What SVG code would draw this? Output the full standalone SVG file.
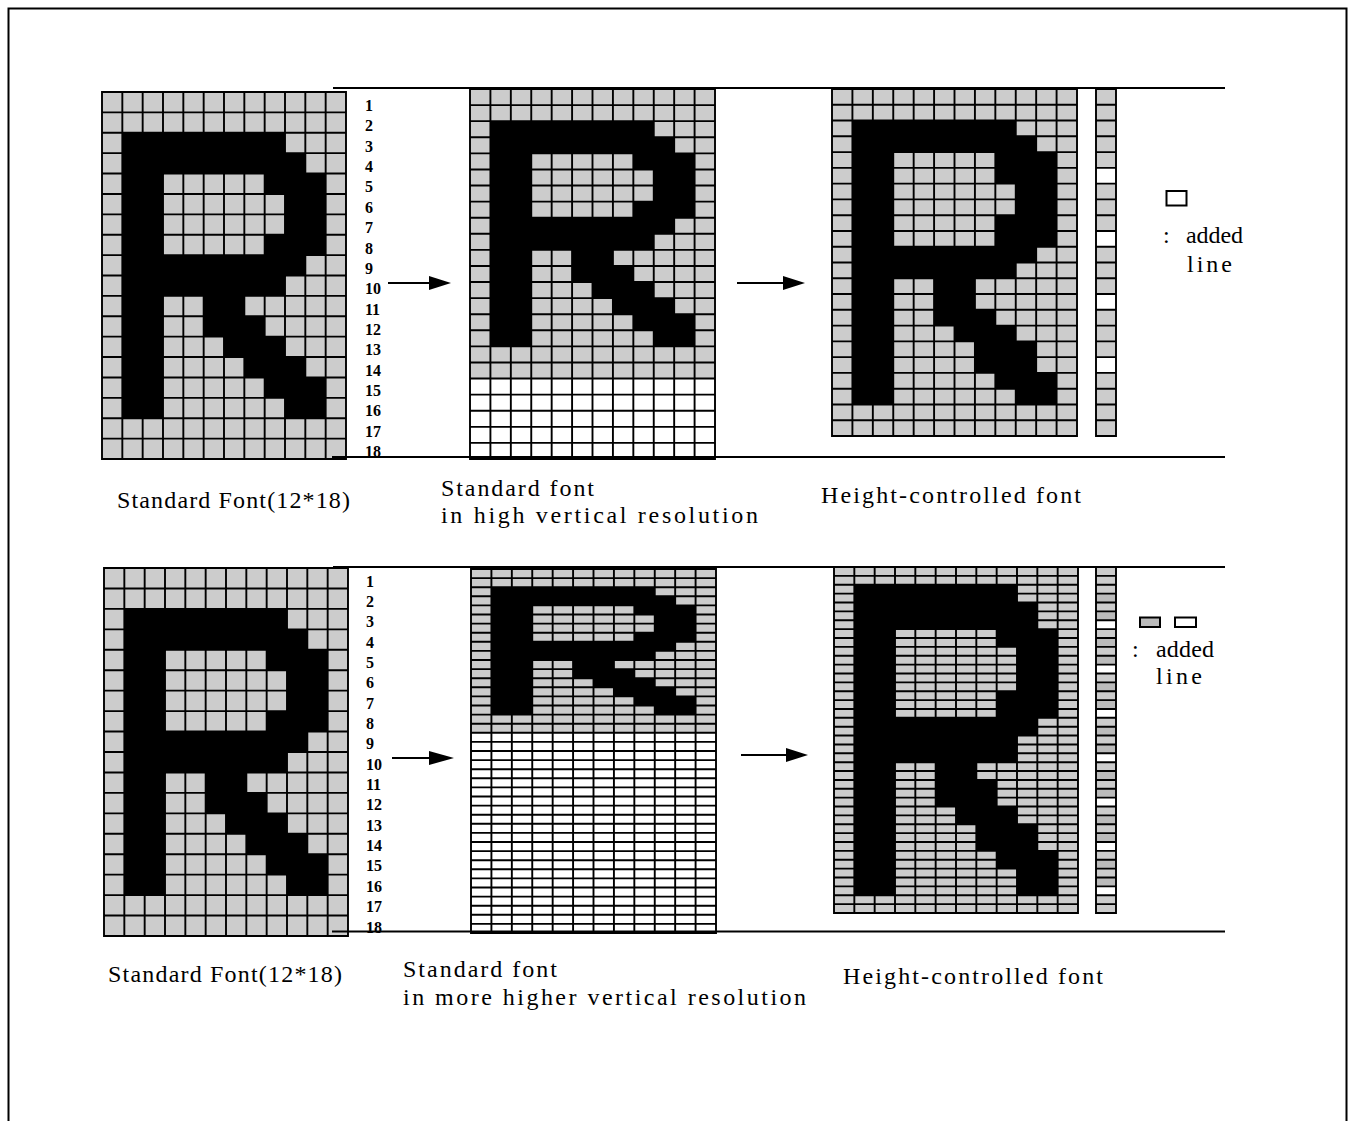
<svg xmlns="http://www.w3.org/2000/svg" xmlns:xlink="http://www.w3.org/1999/xlink" width="1353" height="1121" viewBox="0 0 1353 1121">
<style>
.bg{fill:#cccccc}
.wh{fill:#ffffff}
.dk{fill:#bbbbbb}
.gl{fill:none;stroke:#000;stroke-width:1.9;vector-effect:non-scaling-stroke;stroke-linecap:square}
.cap{font-family:"Liberation Serif",serif;font-size:24px;fill:#000}
.num{font-family:"Liberation Serif",serif;font-size:16px;font-weight:bold;fill:#000}
.rule{stroke:#000;stroke-width:2;fill:none}
.leg{stroke:#000;stroke-width:2}
</style>
<defs>
<g id="rstd">
<rect x="1" y="2" width="2" height="14"/>
<rect x="3" y="2" width="6" height="1"/>
<rect x="3" y="3" width="7" height="1"/>
<rect x="8" y="4" width="3" height="1"/>
<rect x="9" y="5" width="2" height="2"/>
<rect x="8" y="7" width="3" height="1"/>
<rect x="3" y="8" width="7" height="1"/>
<rect x="3" y="9" width="6" height="1"/>
<rect x="5" y="10" width="2" height="1"/>
<rect x="5" y="11" width="3" height="1"/>
<rect x="6" y="12" width="3" height="1"/>
<rect x="7" y="13" width="3" height="1"/>
<rect x="8" y="14" width="3" height="1"/>
<rect x="9" y="15" width="2" height="1"/>
</g>
<path id="g18" class="gl" d="M0 0V18M1 0V18M2 0V18M3 0V18M4 0V18M5 0V18M6 0V18M7 0V18M8 0V18M9 0V18M10 0V18M11 0V18M12 0V18M0 0H12M0 1H12M0 2H12M0 3H12M0 4H12M0 5H12M0 6H12M0 7H12M0 8H12M0 9H12M0 10H12M0 11H12M0 12H12M0 13H12M0 14H12M0 15H12M0 16H12M0 17H12M0 18H12"/>
</defs>

<g id="frame">
<path class="rule" d="M8.5 1121V8.5H1346.5V1121"/>
</g>

<!-- Top row -->
<g id="std-font-top" transform="translate(102,92) scale(20.333,20.389)">
<rect class="bg" width="12" height="18"/>
<use href="#rstd"/>
<use href="#g18"/>
</g>

<g id="row-numbers-top" class="num">
<text x="365" y="111">1</text>
<text x="365" y="131.4">2</text>
<text x="365" y="151.7">3</text>
<text x="365" y="172.1">4</text>
<text x="365" y="192.4">5</text>
<text x="365" y="212.8">6</text>
<text x="365" y="233.1">7</text>
<text x="365" y="253.5">8</text>
<text x="365" y="273.8">9</text>
<text x="365" y="294.2">10</text>
<text x="365" y="314.5">11</text>
<text x="365" y="334.9">12</text>
<text x="365" y="355.2">13</text>
<text x="365" y="375.6">14</text>
<text x="365" y="395.9">15</text>
<text x="365" y="416.3">16</text>
<text x="365" y="436.6">17</text>
<text x="365" y="457">18</text>
</g>

<g id="high-res-top" transform="translate(470,89) scale(20.417,16.087)">
<rect class="bg" width="12" height="18"/>
<use href="#rstd"/>
<rect class="wh" y="18" width="12" height="5"/>
<path class="gl" d="M0 0V23M1 0V23M2 0V23M3 0V23M4 0V23M5 0V23M6 0V23M7 0V23M8 0V23M9 0V23M10 0V23M11 0V23M12 0V23M0 0H12M0 1H12M0 2H12M0 3H12M0 4H12M0 5H12M0 6H12M0 7H12M0 8H12M0 9H12M0 10H12M0 11H12M0 12H12M0 13H12M0 14H12M0 15H12M0 16H12M0 17H12M0 18H12M0 19H12M0 20H12M0 21H12M0 22H12M0 23H12"/>
</g>

<g id="height-controlled-top" transform="translate(832,89) scale(20.417,15.773)">
<rect class="bg" width="12" height="22"/>
<rect x="1" y="2" width="2" height="18"/>
<rect x="3" y="2" width="6" height="1"/>
<rect x="3" y="3" width="7" height="1"/>
<rect x="8" y="4" width="3" height="2"/>
<rect x="9" y="6" width="2" height="2"/>
<rect x="8" y="8" width="3" height="2"/>
<rect x="3" y="10" width="7" height="1"/>
<rect x="3" y="11" width="6" height="1"/>
<rect x="5" y="12" width="2" height="2"/>
<rect x="5" y="14" width="3" height="1"/>
<rect x="6" y="15" width="3" height="1"/>
<rect x="7" y="16" width="3" height="2"/>
<rect x="8" y="18" width="3" height="1"/>
<rect x="9" y="19" width="2" height="1"/>
<path class="gl" d="M0 0V22M1 0V22M2 0V22M3 0V22M4 0V22M5 0V22M6 0V22M7 0V22M8 0V22M9 0V22M10 0V22M11 0V22M12 0V22M0 0H12M0 1H12M0 2H12M0 3H12M0 4H12M0 5H12M0 6H12M0 7H12M0 8H12M0 9H12M0 10H12M0 11H12M0 12H12M0 13H12M0 14H12M0 15H12M0 16H12M0 17H12M0 18H12M0 19H12M0 20H12M0 21H12M0 22H12"/>
</g>

<g id="line-bar-top" transform="translate(1096,89) scale(20,15.773)">
<rect class="bg" width="1" height="22"/>
<rect class="wh" y="5" width="1" height="1"/>
<rect class="wh" y="9" width="1" height="1"/>
<rect class="wh" y="13" width="1" height="1"/>
<rect class="wh" y="17" width="1" height="1"/>
<path class="gl" d="M0 0V22M1 0V22M0 0H1M0 1H1M0 2H1M0 3H1M0 4H1M0 5H1M0 6H1M0 7H1M0 8H1M0 9H1M0 10H1M0 11H1M0 12H1M0 13H1M0 14H1M0 15H1M0 16H1M0 17H1M0 18H1M0 19H1M0 20H1M0 21H1M0 22H1"/>
</g>

<g id="legend-top">
<rect class="leg" x="1166.5" y="191" width="20" height="14.5" fill="#fff"/>
<text class="cap" x="1163" y="243">:</text>
<text class="cap" x="1186" y="243" textLength="57" lengthAdjust="spacing">added</text>
<text class="cap" x="1187" y="272" textLength="45" lengthAdjust="spacing">line</text>
</g>

<g id="captions-top">
<text class="cap" x="117" y="508" textLength="233" lengthAdjust="spacing">Standard Font(12*18)</text>
<text class="cap" x="441" y="496" textLength="153" lengthAdjust="spacing">Standard font</text>
<text class="cap" x="441" y="523" textLength="317" lengthAdjust="spacing">in high vertical resolution</text>
<text class="cap" x="821" y="503" textLength="260" lengthAdjust="spacing">Height-controlled font</text>
</g>

<!-- Bottom row -->
<g id="std-font-bottom" transform="translate(104,568) scale(20.333,20.444)">
<rect class="bg" width="12" height="18"/>
<use href="#rstd"/>
<use href="#g18"/>
</g>

<g id="row-numbers-bottom" class="num">
<text x="366" y="586.5">1</text>
<text x="366" y="606.9">2</text>
<text x="366" y="627.2">3</text>
<text x="366" y="647.6">4</text>
<text x="366" y="667.9">5</text>
<text x="366" y="688.3">6</text>
<text x="366" y="708.6">7</text>
<text x="366" y="729">8</text>
<text x="366" y="749.3">9</text>
<text x="366" y="769.7">10</text>
<text x="366" y="790">11</text>
<text x="366" y="810.4">12</text>
<text x="366" y="830.7">13</text>
<text x="366" y="851.1">14</text>
<text x="366" y="871.4">15</text>
<text x="366" y="891.8">16</text>
<text x="366" y="912.1">17</text>
<text x="366" y="932.5">18</text>
</g>

<g id="higher-res-bottom" transform="translate(471,569) scale(20.417,9.1)">
<rect class="bg" width="12" height="18"/>
<use href="#rstd"/>
<rect class="wh" y="18" width="12" height="22"/>
<path class="gl" d="M0 0V40M1 0V40M2 0V40M3 0V40M4 0V40M5 0V40M6 0V40M7 0V40M8 0V40M9 0V40M10 0V40M11 0V40M12 0V40M0 0H12M0 1H12M0 2H12M0 3H12M0 4H12M0 5H12M0 6H12M0 7H12M0 8H12M0 9H12M0 10H12M0 11H12M0 12H12M0 13H12M0 14H12M0 15H12M0 16H12M0 17H12M0 18H12M0 19H12M0 20H12M0 21H12M0 22H12M0 23H12M0 24H12M0 25H12M0 26H12M0 27H12M0 28H12M0 29H12M0 30H12M0 31H12M0 32H12M0 33H12M0 34H12M0 35H12M0 36H12M0 37H12M0 38H12M0 39H12M0 40H12"/>
</g>

<g id="height-controlled-bottom" transform="translate(834,567) scale(20.333,8.872)">
<rect class="bg" width="12" height="39"/>
<rect x="1" y="2" width="2" height="35"/>
<rect x="3" y="2" width="6" height="2"/>
<rect x="3" y="4" width="7" height="3"/>
<rect x="8" y="7" width="3" height="2"/>
<rect x="9" y="9" width="2" height="5"/>
<rect x="8" y="14" width="3" height="3"/>
<rect x="3" y="17" width="7" height="2"/>
<rect x="3" y="19" width="6" height="3"/>
<rect x="5" y="22" width="2" height="2"/>
<rect x="5" y="24" width="3" height="3"/>
<rect x="6" y="27" width="3" height="2"/>
<rect x="7" y="29" width="3" height="3"/>
<rect x="8" y="32" width="3" height="2"/>
<rect x="9" y="34" width="2" height="3"/>
<path class="gl" d="M0 0V39M1 0V39M2 0V39M3 0V39M4 0V39M5 0V39M6 0V39M7 0V39M8 0V39M9 0V39M10 0V39M11 0V39M12 0V39M0 0H12M0 1H12M0 2H12M0 3H12M0 4H12M0 5H12M0 6H12M0 7H12M0 8H12M0 9H12M0 10H12M0 11H12M0 12H12M0 13H12M0 14H12M0 15H12M0 16H12M0 17H12M0 18H12M0 19H12M0 20H12M0 21H12M0 22H12M0 23H12M0 24H12M0 25H12M0 26H12M0 27H12M0 28H12M0 29H12M0 30H12M0 31H12M0 32H12M0 33H12M0 34H12M0 35H12M0 36H12M0 37H12M0 38H12M0 39H12"/>
</g>

<g id="line-bar-bottom" transform="translate(1096,567) scale(20,8.872)">
<rect class="bg" width="1" height="39"/>
<rect class="dk" y="3" width="1" height="1"/>
<rect class="dk" y="5" width="1" height="1"/>
<rect class="wh" y="6" width="1" height="1"/>
<rect class="dk" y="8" width="1" height="1"/>
<rect class="dk" y="10" width="1" height="1"/>
<rect class="wh" y="11" width="1" height="1"/>
<rect class="dk" y="13" width="1" height="1"/>
<rect class="dk" y="15" width="1" height="1"/>
<rect class="wh" y="16" width="1" height="1"/>
<rect class="dk" y="18" width="1" height="1"/>
<rect class="dk" y="20" width="1" height="1"/>
<rect class="wh" y="21" width="1" height="1"/>
<rect class="dk" y="23" width="1" height="1"/>
<rect class="dk" y="25" width="1" height="1"/>
<rect class="wh" y="26" width="1" height="1"/>
<rect class="dk" y="28" width="1" height="1"/>
<rect class="dk" y="30" width="1" height="1"/>
<rect class="wh" y="31" width="1" height="1"/>
<rect class="dk" y="33" width="1" height="1"/>
<rect class="dk" y="35" width="1" height="1"/>
<rect class="wh" y="36" width="1" height="1"/>
<path class="gl" d="M0 0V39M1 0V39M0 0H1M0 1H1M0 2H1M0 3H1M0 4H1M0 5H1M0 6H1M0 7H1M0 8H1M0 9H1M0 10H1M0 11H1M0 12H1M0 13H1M0 14H1M0 15H1M0 16H1M0 17H1M0 18H1M0 19H1M0 20H1M0 21H1M0 22H1M0 23H1M0 24H1M0 25H1M0 26H1M0 27H1M0 28H1M0 29H1M0 30H1M0 31H1M0 32H1M0 33H1M0 34H1M0 35H1M0 36H1M0 37H1M0 38H1M0 39H1"/>
</g>

<g id="legend-bottom">
<rect class="leg" x="1140" y="617.5" width="20" height="9.5" fill="#bbbbbb"/>
<rect class="leg" x="1175" y="617.5" width="21" height="9.5" fill="#fff"/>
<text class="cap" x="1132" y="657">:</text>
<text class="cap" x="1156" y="657" textLength="58" lengthAdjust="spacing">added</text>
<text class="cap" x="1156" y="684" textLength="46" lengthAdjust="spacing">line</text>
</g>

<g id="captions-bottom">
<text class="cap" x="108" y="982" textLength="234" lengthAdjust="spacing">Standard Font(12*18)</text>
<text class="cap" x="403" y="977" textLength="154" lengthAdjust="spacing">Standard font</text>
<text class="cap" x="403" y="1005" textLength="403" lengthAdjust="spacing">in more higher vertical resolution</text>
<text class="cap" x="843" y="984" textLength="260" lengthAdjust="spacing">Height-controlled font</text>
</g>

<g id="rules">
<path class="rule" d="M333 88H1225M332 457H1225M333 567H1225M332 931.5H1225"/>
</g>

<g id="connectors">
<path class="rule" d="M388 283H432"/>
<polygon points="429,276 451,283 429,290"/>
<path class="rule" d="M737 283H786"/>
<polygon points="783,276 805,283 783,290"/>
<path class="rule" d="M392 758H432"/>
<polygon points="429,751 454,758 429,765"/>
<path class="rule" d="M741 755H789"/>
<polygon points="786,748 808,755 786,762"/>
</g>
</svg>
